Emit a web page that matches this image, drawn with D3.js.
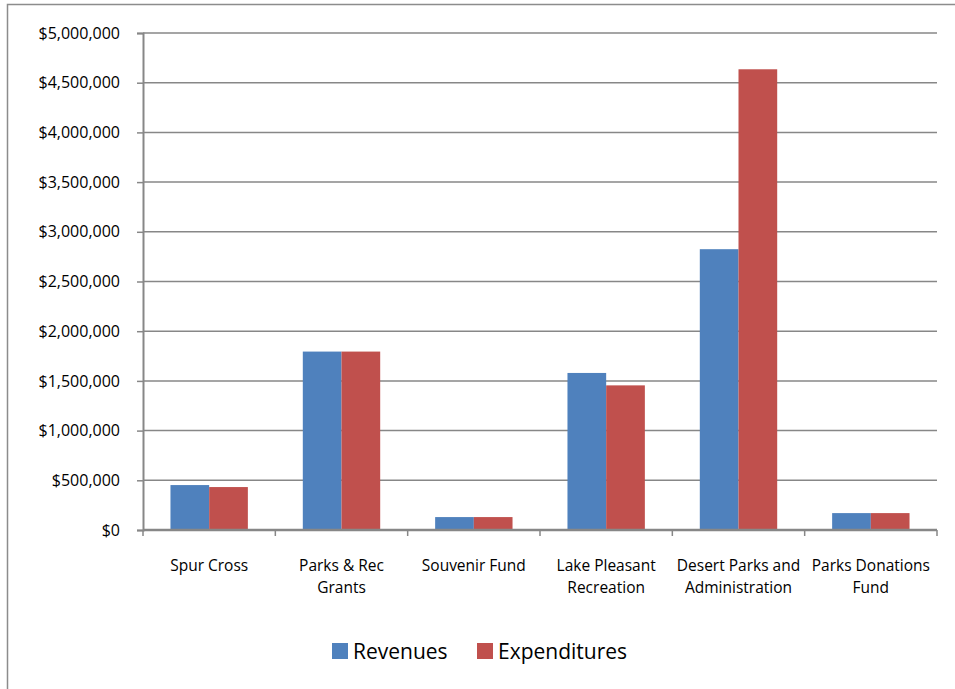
<!DOCTYPE html>
<html><head><meta charset="utf-8">
<script src="https://cdn.jsdelivr.net/npm/d3@7"></script>
<style>body{margin:0;background:#fff}text{font-family:"Open Sans",sans-serif;fill:#000}</style>
</head><body><svg id="c" width="955" height="689"></svg>
<script>
const categories = [["Spur Cross"],["Parks & Rec","Grants"],["Souvenir Fund"],["Lake Pleasant","Recreation"],["Desert Parks and","Administration"],["Parks Donations","Fund"]];
const seriesNames = ["Revenues","Expenditures"];
const revenues = [452000, 1795000, 130000, 1580000, 2825000, 170000];
const expenditures = [432000, 1795000, 130000, 1455000, 4635000, 170000];
const yTicks = [0,500000,1000000,1500000,2000000,2500000,3000000,3500000,4000000,4500000,5000000];
const colors = ["#4F81BD","#C0504D"];

const svg = d3.select("#c");
svg.append("rect").attr("x",7.5).attr("y",4.5).attr("width",960).attr("height",700)
  .attr("fill","#fff").attr("stroke","#8c8c8c").attr("stroke-width",1.5);

const L=143,R=937,T=33,B=530;
const x0 = d3.scaleBand().domain(d3.range(categories.length)).range([L,R]).paddingInner(0).paddingOuter(0);
const x1 = d3.scaleBand().domain([0,1]).range([0, x0.bandwidth()]).paddingOuter(0.71).paddingInner(0);
const y = d3.scaleLinear().domain([0,5000000]).range([B,T]);
const fmt = v => "$" + d3.format(",")(v);

// gridlines
svg.append("g").selectAll("line").data(yTicks.slice(1)).join("line")
  .attr("x1",L).attr("x2",R).attr("y1",d=>y(d)).attr("y2",d=>y(d))
  .attr("stroke","#878787").attr("stroke-width",1.5);

// y axis
const ya = svg.append("g").attr("transform",`translate(${L},0)`)
  .call(d3.axisLeft(y).tickValues(yTicks).tickFormat(fmt).tickSize(6).tickPadding(17));
ya.select(".domain").attr("stroke","#878787").attr("stroke-width",2);
ya.selectAll(".tick line").attr("stroke","#878787").attr("stroke-width",1.5);
ya.selectAll(".tick text").attr("font-size","16px").attr("font-family","'Open Sans', sans-serif").attr("fill","#000");

// bars
const series = [revenues, expenditures];
const g = svg.append("g");
series.forEach((vals,si)=>{
  g.selectAll(".b"+si).data(vals).join("rect")
    .attr("x",(d,i)=>x0(i)+x1(si)).attr("width",x1.bandwidth())
    .attr("y",d=>y(d)).attr("height",d=>B-y(d)).attr("fill",colors[si]);
});

// x axis
const xa = svg.append("g").attr("transform",`translate(0,${B})`);
xa.append("line").attr("x1",L).attr("x2",R).attr("stroke","#878787").attr("stroke-width",2.5);
xa.selectAll(".t").data(d3.range(categories.length+1)).join("line")
  .attr("x1",i=>L+i*x0.step()).attr("x2",i=>L+i*x0.step()).attr("y1",0).attr("y2",6)
  .attr("stroke","#878787").attr("stroke-width",1.5);
const lab = svg.append("g").selectAll("text").data(categories).join("text")
  .attr("text-anchor","middle").attr("font-size","15.5px")
  .attr("transform",(d,i)=>`translate(${x0(i)+x0.bandwidth()/2},571)`);
lab.selectAll("tspan").data(d=>d).join("tspan").attr("x",0).attr("dy",(d,i)=>i?22:0).text(d=>d);

// legend
const leg = svg.append("g");
const lx = [332, 477];
seriesNames.forEach((n,i)=>{
  leg.append("rect").attr("x",lx[i]).attr("y",643).attr("width",16).attr("height",16).attr("fill",colors[i]);
  leg.append("text").attr("x",lx[i]+21).attr("y",659).attr("font-size","21px").text(n);
});
</script></body></html>
